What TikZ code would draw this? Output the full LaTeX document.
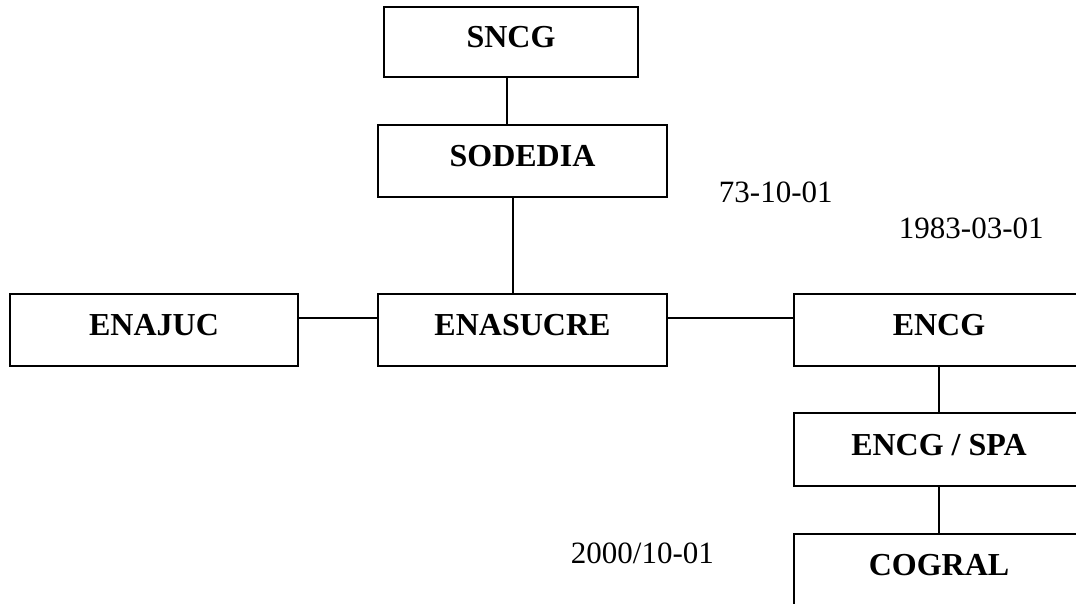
\documentclass[tikz,border=0pt]{standalone}
\usepackage{fontspec}
\setmainfont{Liberation Serif}
\usetikzlibrary{positioning}

\begin{document}
\begin{tikzpicture}[x=1pt, y=-1pt, line width=1.9pt,
    every node/.style={font=\fontsize{31}{36}\selectfont},
    unit/.style={draw, inner sep=0pt, font=\fontsize{32}{36}\selectfont\bfseries,
                 text height=21pt, text depth=10pt, minimum height=72pt}]
    \clip (0,0) rectangle (1076,604);

    % Top of the chain
    \node[unit, minimum width=254pt, minimum height=70pt] (sncg) at (511,42) {SNCG};
    \node[unit, minimum width=289pt] (sodedia) at (522.5,161) {SODEDIA};

    % Middle row
    \node[unit, minimum width=288pt] (enajuc)   at (154,330)   {ENAJUC};
    \node[unit, minimum width=289pt] (enasucre) at (522.5,330) {ENASUCRE};
    \node[unit, minimum width=290pt] (encg)     at (939,330)   {ENCG};

    % Right column
    \node[unit, minimum width=290pt, minimum height=73pt] (encgspa) at (939,449.5) {ENCG / SPA};
    \node[unit, minimum width=290pt] (cogral) at (939,570) {COGRAL};

    % Connectors
    \draw ([xshift=-4pt]sncg.south) -- ([xshift=-4pt]sncg.south |- sodedia.north);
    \draw ([xshift=-9.5pt]sodedia.south) -- ([xshift=-9.5pt]sodedia.south |- enasucre.north);
    \draw ([yshift=12pt]enajuc.east) -- ([yshift=12pt]enasucre.west);
    \draw ([yshift=12pt]enasucre.east) -- ([yshift=12pt]encg.west);
    \draw (encg.south) -- (encgspa.north);
    \draw (encgspa.south) -- (cogral.north);

    % Dates
    \foreach \name/\x/\y/\txt in {d1973/718/203/73-10-01, d1983/898/239/1983-03-01,
                                  d2000/570/563/2000\slash10-01} {
        \node[anchor=base west, inner sep=0pt] (\name) at (\x,\y) {\txt};
    }
\end{tikzpicture}
\end{document}
